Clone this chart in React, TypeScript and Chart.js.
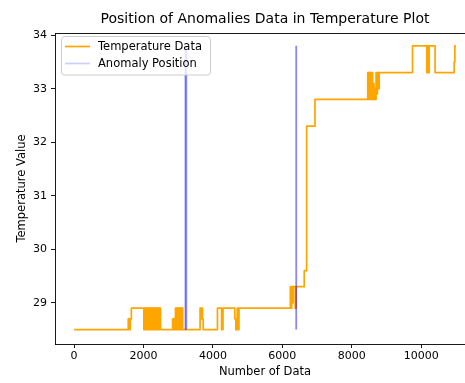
import React, { useEffect, useRef } from "react";
import { Chart, registerables } from "chart.js";

Chart.register(...registerables);

const chartTitle = "Position of Anomalies Data in Temperature Plot";
const xAxisLabel = "Number of Data";
const yAxisLabel = "Temperature Value";
const xTicks = [0, 2000, 4000, 6000, 8000, 10000];
const yTicks = [29, 30, 31, 32, 33, 34];

const temperatureLabel = "Temperature Data";
const anomalyLabel = "Anomaly Position";

// Reading index where the temperature changes, and the value it holds from there on
const stepIndex = [
  0, 1560, 1600, 1620, 1650,
  2010, 2020, 2030, 2040, 2050, 2060, 2070, 2080, 2090, 2100, 2110, 2120, 2130,
  2140, 2150, 2160, 2170, 2180, 2190, 2200, 2210, 2220, 2230, 2240, 2250, 2260,
  2270, 2280, 2290, 2300, 2310, 2320, 2330, 2340, 2350, 2360, 2370, 2380, 2390,
  2400, 2410, 2420, 2430, 2440, 2450, 2460, 2470, 2480, 2490,
  2840, 2860, 2880, 2900, 2920, 2930, 2940, 2950, 2960, 2970, 2980, 2990, 3000,
  3010, 3020, 3030, 3040, 3050, 3060, 3070, 3080, 3090, 3100, 3110, 3120, 3130,
  3140,
  3630, 3670, 3690, 3700, 3720,
  4130, 4250, 4290, 4630, 4660, 4700, 4720, 4750,
  6230, 6250, 6270, 6290, 6310, 6370, 6400, 6630, 6700, 6940,
  8460, 8470, 8480, 8490, 8500, 8510, 8520, 8530, 8540, 8550, 8560, 8570, 8580,
  8600, 8620, 8640, 8660, 8680, 8700, 8720, 8740, 8760, 8790,
  9750, 10160, 10180, 10200, 10230, 10400, 10950, 10970, 11000,
];
const stepValue = [
  28.5, 28.7, 28.5, 28.7, 28.9,
  28.5, 28.9, 28.5, 28.9, 28.5, 28.9, 28.5, 28.9, 28.5, 28.9, 28.7, 28.9, 28.5,
  28.9, 28.5, 28.9, 28.5, 28.9, 28.5, 28.9, 28.5, 28.9, 28.5, 28.9, 28.5, 28.9,
  28.5, 28.9, 28.5, 28.9, 28.5, 28.9, 28.5, 28.9, 28.5, 28.9, 28.5, 28.9, 28.5,
  28.9, 28.5, 28.9, 28.5, 28.9, 28.5, 28.9, 28.5, 28.9, 28.5,
  28.7, 28.5, 28.7, 28.5, 28.9, 28.5, 28.9, 28.5, 28.9, 28.5, 28.9, 28.5, 28.9,
  28.5, 28.9, 28.5, 28.9, 28.5, 28.9, 28.5, 28.9, 28.5, 28.9, 28.5, 28.9, 28.5,
  28.5,
  28.9, 28.7, 28.9, 28.7, 28.5,
  28.9, 28.5, 28.9, 28.7, 28.5, 28.9, 28.5, 28.9,
  29.3, 28.9, 29.3, 29.0, 29.3, 28.9, 29.3, 29.6, 32.3, 32.8,
  33.3, 32.8, 33.3, 32.8, 33.3, 32.8, 33.3, 32.8, 33.3, 32.8, 33.3, 32.8, 33.3,
  32.8, 33.1, 32.8, 33.0, 32.8, 33.3, 32.9, 33.3, 33.0, 33.3,
  33.8, 33.3, 33.8, 33.3, 33.8, 33.3, 33.5, 33.8, 33.8,
];

// Positions of detected anomalies, each marked by a vertical line
const anomalyIndex = [3200, 3210, 3220, 3230, 3240, 6395, 6400, 6405];
const anomalyLow = 28.5;
const anomalyHigh = 33.8;

const xMin = -550;
const xMax = 11550;
const yMin = 28.23;
const yMax = 34.04;

const FONT = "'DejaVu Sans', sans-serif";
const ORANGE = "#ffa500";
const ANOMALY_COLOR = "rgba(0, 0, 255, 0.2)";

const frameAndText = {
  id: "frameAndText",
  afterDatasetsDraw(chart: any) {
    const { ctx, chartArea } = chart;
    const { left, top, right, bottom } = chartArea;
    ctx.save();

    // top and right spines
    ctx.strokeStyle = "#000";
    ctx.lineWidth = 0.9;
    ctx.beginPath();
    ctx.moveTo(left, top + 0.5);
    ctx.lineTo(right, top + 0.5);
    ctx.moveTo(right - 0.5, top);
    ctx.lineTo(right - 0.5, bottom);
    ctx.stroke();

    // title
    ctx.fillStyle = "#000";
    ctx.font = `14px ${FONT}`;
    ctx.textAlign = "center";
    ctx.textBaseline = "alphabetic";
    ctx.fillText(chartTitle, (left + right) / 2, top - 10);

    // legend
    const bx = left + 6.5;
    const by = top + 3.5;
    const bw = 149;
    const bh = 38.5;
    const r = 3;
    ctx.beginPath();
    ctx.moveTo(bx + r, by);
    ctx.lineTo(bx + bw - r, by);
    ctx.quadraticCurveTo(bx + bw, by, bx + bw, by + r);
    ctx.lineTo(bx + bw, by + bh - r);
    ctx.quadraticCurveTo(bx + bw, by + bh, bx + bw - r, by + bh);
    ctx.lineTo(bx + r, by + bh);
    ctx.quadraticCurveTo(bx, by + bh, bx, by + bh - r);
    ctx.lineTo(bx, by + r);
    ctx.quadraticCurveTo(bx, by, bx + r, by);
    ctx.closePath();
    ctx.fillStyle = "rgba(255,255,255,0.8)";
    ctx.fill();
    ctx.strokeStyle = "#cccccc";
    ctx.lineWidth = 1;
    ctx.stroke();

    const items = [
      { label: temperatureLabel, color: ORANGE, y: by + 10 },
      { label: anomalyLabel, color: ANOMALY_COLOR, y: by + 27 },
    ];
    ctx.font = `11.5px ${FONT}`;
    ctx.textAlign = "left";
    ctx.textBaseline = "middle";
    for (const it of items) {
      ctx.strokeStyle = it.color;
      ctx.lineWidth = 1.7;
      ctx.beginPath();
      ctx.moveTo(bx + 3.5, it.y);
      ctx.lineTo(bx + 28.5, it.y);
      ctx.stroke();
      ctx.fillStyle = "#000";
      ctx.fillText(it.label, bx + 36.5, it.y + 0.5);
    }
    ctx.restore();
  },
};

export default function App() {
  const canvasRef = useRef<HTMLCanvasElement | null>(null);

  useEffect(() => {
    const canvas = canvasRef.current;
    if (!canvas) return;

    const temperaturePoints = stepIndex.map((x, i) => ({ x, y: stepValue[i] }));

    const anomalySets = anomalyIndex.map((x) => ({
      label: anomalyLabel,
      data: [
        { x, y: anomalyLow },
        { x, y: anomalyHigh },
      ],
      borderColor: ANOMALY_COLOR,
      backgroundColor: ANOMALY_COLOR,
      borderWidth: 1.7,
      pointRadius: 0,
      fill: false,
      order: 0,
    }));

    const chart = new Chart(canvas, {
      type: "line",
      data: {
        datasets: [
          {
            label: temperatureLabel,
            data: temperaturePoints,
            borderColor: ORANGE,
            backgroundColor: ORANGE,
            borderWidth: 1.7,
            borderJoinStyle: "round",
            pointRadius: 0,
            stepped: "before",
            fill: false,
            order: 1,
          },
          ...anomalySets,
        ],
      },
      options: {
        animation: false,
        responsive: false,
        devicePixelRatio: 1,
        layout: { padding: { top: 33, left: 0, right: 1, bottom: 0 } },
        plugins: {
          legend: { display: false },
          title: { display: false },
          tooltip: { enabled: false },
        },
        scales: {
          x: {
            type: "linear",
            min: xMin,
            max: xMax,
            afterFit(scale: any) {
              scale.height = 39;
            },
            afterBuildTicks(scale: any) {
              scale.ticks = xTicks.map((v) => ({ value: v }));
            },
            grid: {
              drawOnChartArea: false,
              drawTicks: true,
              tickLength: 4,
              tickColor: "#000",
              tickWidth: 0.9,
            },
            border: { display: true, color: "#000", width: 0.9 },
            ticks: {
              color: "#000",
              font: { family: FONT, size: 11 },
              padding: 2,
              maxRotation: 0,
              autoSkip: false,
              callback: (v: any) => String(v),
            },
            title: {
              display: true,
              text: xAxisLabel,
              color: "#000",
              font: { family: FONT, size: 11.5 },
              padding: { top: 0, bottom: 4 },
            },
          },
          y: {
            type: "linear",
            min: yMin,
            max: yMax,
            afterFit(scale: any) {
              scale.width = 55;
            },
            afterBuildTicks(scale: any) {
              scale.ticks = yTicks.map((v) => ({ value: v }));
            },
            grid: {
              drawOnChartArea: false,
              drawTicks: true,
              tickLength: 4,
              tickColor: "#000",
              tickWidth: 0.9,
            },
            border: { display: true, color: "#000", width: 0.9 },
            ticks: {
              color: "#000",
              font: { family: FONT, size: 11 },
              padding: 4,
              autoSkip: false,
              callback: (v: any) => String(v),
            },
            title: {
              display: true,
              text: yAxisLabel,
              color: "#000",
              font: { family: FONT, size: 11.5 },
              padding: { top: 15, bottom: 0 },
            },
          },
        },
      },
      plugins: [frameAndText],
    });

    return () => chart.destroy();
  }, []);

  return (
    <div
      style={{
        position: "fixed",
        left: 0,
        top: 0,
        width: 465,
        height: 383,
        overflow: "hidden",
        background: "#fff",
      }}
    >
      <canvas ref={canvasRef} width={476} height={383} style={{ display: "block" }} />
    </div>
  );
}
